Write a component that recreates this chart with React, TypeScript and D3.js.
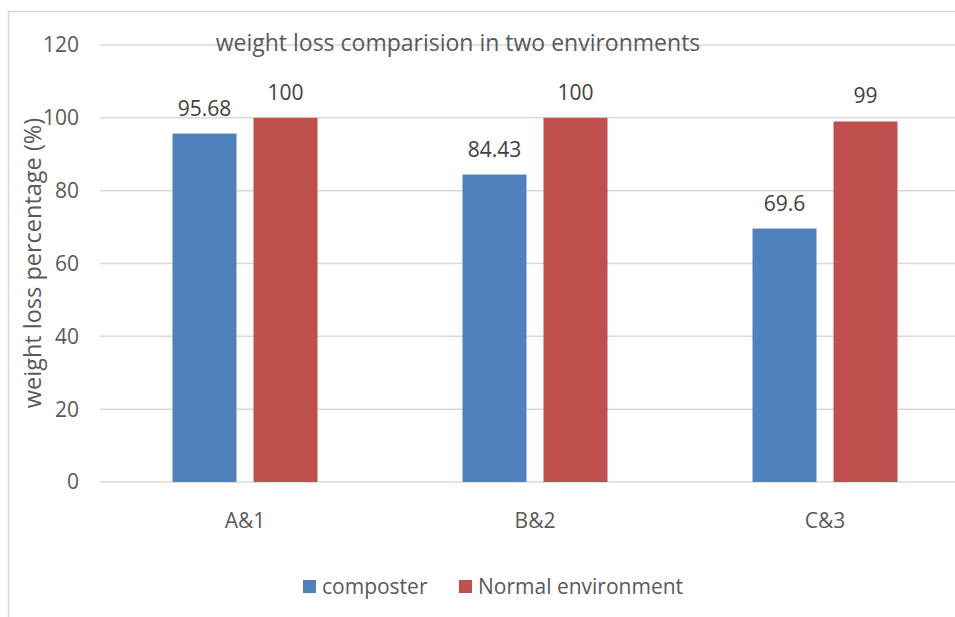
import React from "react";
import * as d3 from "d3";

const categories = ["A&1", "B&2", "C&3"];
const seriesNames = ["composter", "Normal environment"];
const composter = [95.68, 84.43, 69.6];
const normalEnv = [100, 100, 99];
const yTicks = [0, 20, 40, 60, 80, 100, 120];

const W = 955;
const H = 617;
const colors = ["#4F81BD", "#C0504D"];
const textColor = "#595959";
const font = "'Open Sans', 'Noto Sans', sans-serif";

export default function App() {
  const x = d3.scaleBand<string>().domain(categories).range([100, 970]);
  const inner = d3
    .scaleBand<string>()
    .domain(seriesNames)
    .range([72.5, 217.5])
    .paddingInner(0.21);
  const y = d3.scaleLinear().domain([0, 120]).range([482, 45]);
  const series = [composter, normalEnv];

  return (
    <svg
      width={W}
      height={H}
      style={{ position: "absolute", left: 0, top: 0, background: "#fff" }}
      fontFamily={font}
    >
      <rect x={8.5} y={11.5} width={W + 10} height={H + 10} fill="#fff" stroke="#d9d9d9" strokeWidth={1.5} />
      {yTicks.map((t) => (
        <g key={t}>
          <line x1={100} x2={970} y1={y(t)} y2={y(t)} stroke="#d9d9d9" strokeWidth={1.5} />
          <text x={79} y={y(t)} dy="0.35em" textAnchor="end" fontSize={21} fill={textColor}>
            {t}
          </text>
        </g>
      ))}
      <text x={458} y={43} dy="0.35em" textAnchor="middle" fontSize={23} fill={textColor}>
        weight loss comparision in two environments
      </text>
      {categories.map((c, i) => (
        <g key={c}>
          {series.map((vals, s) => {
            const bx = (x(c) as number) + (inner(seriesNames[s]) as number);
            const bw = inner.bandwidth();
            return (
              <g key={s}>
                <rect x={bx} y={y(vals[i])} width={bw} height={y(0) - y(vals[i])} fill={colors[s]} />
                <text x={bx + bw / 2} y={y(vals[i]) - 18} textAnchor="middle" fontSize={21} fill="#404040">
                  {vals[i]}
                </text>
              </g>
            );
          })}
          <text x={(x(c) as number) + x.bandwidth() / 2} y={521} dy="0.35em" textAnchor="middle" fontSize={21} fill={textColor}>
            {c}
          </text>
        </g>
      ))}
      <text
        transform={`translate(33,${263}) rotate(-90)`}
        dy="0.35em"
        textAnchor="middle"
        fontSize={23.5}
        fill={textColor}
      >
        weight loss percentage (%)
      </text>
      <g>
        <rect x={303} y={580} width={13} height={13} fill={colors[0]} />
        <text x={322} y={587} dy="0.35em" fontSize={21} fill={textColor}>
          {seriesNames[0]}
        </text>
        <rect x={459} y={580} width={13} height={13} fill={colors[1]} />
        <text x={478} y={587} dy="0.35em" fontSize={21} fill={textColor}>
          {seriesNames[1]}
        </text>
      </g>
    </svg>
  );
}
